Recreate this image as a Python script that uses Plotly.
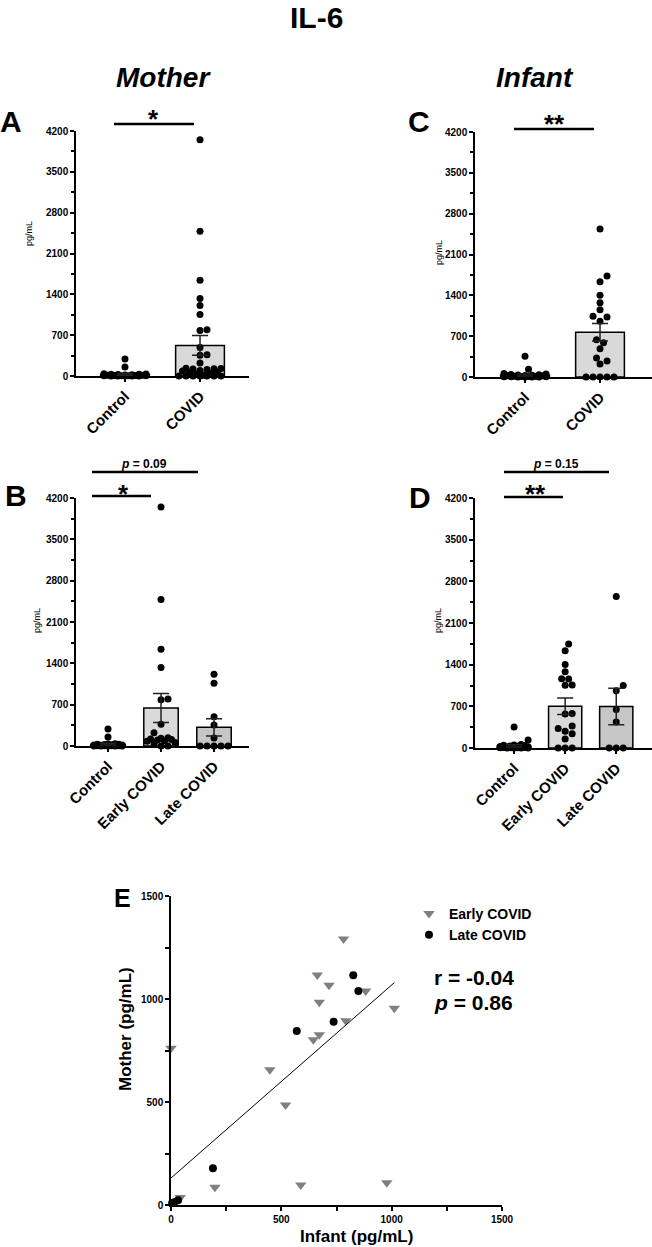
import numpy as np
import plotly.graph_objects as go

W, H = 652, 1247
FONT = "Liberation Sans, Arial, sans-serif"

# ---------------- data (pg/mL) ----------------
groups_2 = ["Control", "COVID"]
groups_3 = ["Control", "Early COVID", "Late COVID"]

mother_control = [290, 154, 40, 35, 30, 28, 25, 20, 18, 15, 12, 10, 8, 6, 5, 4, 3, 2, 1, 0, 0, 0]
mother_covid = [4050, 2480, 1640, 1330, 1210, 1055, 795, 780, 490, 365, 355, 222,
                135, 130, 125, 118, 110, 95, 85, 70, 60, 45, 30, 15, 0, 0, 0, 0, 0, 0, 0]
mother_early = [4047, 2482, 1640, 1328, 797, 785, 367, 226, 140, 130, 120, 110, 100, 90, 80, 60, 40, 0, 0]
mother_late = [1215, 1062, 497, 356, 136, 0, 0, 0, 0, 0]

infant_control = [354, 135, 60, 50, 45, 40, 35, 30, 25, 22, 20, 15, 12, 10, 8, 5, 5, 3, 2, 0, 0, 0]
infant_covid = [2537, 1731, 1634, 1400, 1274, 1154, 1040, 1030, 954, 640, 589, 486, 326, 274, 223, 0, 0, 0, 0, 0]
infant_early = [1746, 1634, 1404, 1280, 1165, 1160, 1058, 1054, 578, 573, 371, 326, 281, 241, 152, 0, 0, 0]
infant_late = [2544, 1050, 960, 646, 438, 0, 0, 0]

# bar heights (mean) and error bars (SEM)
mean_A = [30, 524]
sem_A = [15, 170]
mean_B = [30, 644, 316]
sem_B = [15, 245, 145]
mean_C = [35, 766]
sem_C = [18, 150]
mean_D = [35, 702, 697]
sem_D = [18, 140, 308]

# panel E: correlation, Infant (x) vs Mother (y)
early_infant = [0, 782, 663, 716, 672, 882, 1012, 792, 672, 645, 448, 519, 199, 588, 978, 42]
early_mother = [761, 1291, 1117, 1067, 984, 1039, 955, 894, 826, 802, 656, 485, 86, 97, 108, 36]
late_infant = [826, 849, 737, 570, 190, 32, 15, 5]
late_mother = [1115, 1039, 889, 845, 179, 23, 13, 10]
fit_intercept = 131
fit_slope = 0.937

y_ticks = [0, 700, 1400, 2100, 2800, 3500, 4200]
e_ticks = [0, 500, 1000, 1500]

# ---------------- helpers ----------------
def PX(p):
    return p / W


def PY(p):
    return 1 - p / H


def swarm(values, ppx, ppy, d=7.0, maxw=22.0):
    vals = np.asarray(values, dtype=float)
    order = np.argsort(vals, kind="stable")
    step = d / 2
    cands = [0.0]
    k = 1
    while k * step <= maxw:
        cands += [k * step, -k * step]
        k += 1
    placed = []
    offs = np.zeros(len(vals))
    for i in order:
        y = vals[i] * ppy
        chosen, best_c, best_s = None, 0.0, -1
        for c in cands:
            md = min((np.hypot(c - px, y - py) for px, py in placed), default=1e9)
            if md >= d * 0.98:
                chosen = c
                break
            if md > best_s:
                best_s, best_c = md, c
        if chosen is None:
            chosen = best_c
        placed.append((chosen, y))
        offs[i] = chosen / ppx
    return offs


fig = go.Figure()

axis_line = dict(showline=True, linecolor="black", linewidth=1.5, ticks="outside",
                 ticklen=4, tickwidth=1.5, tickcolor="black", showgrid=False,
                 zeroline=False, automargin=False)

panels = [
    dict(ax="", xd=(76, 249), yd=(131, 376), xr=(-0.653, 1.653), labels=groups_2,
         data=[mother_control, mother_covid], mean=mean_A, sem=sem_A,
         colors=["#d9d9d9", "#d9d9d9"], ytitle=(29, 234), maxw=22),
    dict(ax="2", xd=(76, 249), yd=(498, 746), xr=(-0.604, 2.66), labels=groups_3,
         data=[mother_control, mother_early, mother_late], mean=mean_B, sem=sem_B,
         colors=["#d9d9d9", "#dadada", "#c6c6c6"], ytitle=(37, 621), maxw=16),
    dict(ax="3", xd=(475, 652), yd=(132, 377), xr=(-0.667, 1.693), labels=groups_2,
         data=[infant_control, infant_covid], mean=mean_C, sem=sem_C,
         colors=["#d9d9d9", "#d9d9d9"], ytitle=(439, 253), maxw=22),
    dict(ax="4", xd=(475, 652), yd=(498, 748), xr=(-0.765, 2.70), labels=groups_3,
         data=[infant_control, infant_early, infant_late], mean=mean_D, sem=sem_D,
         colors=["#d9d9d9", "#dadada", "#c6c6c6"], ytitle=(438, 621), maxw=16),
]

annotations = []
shapes = []

for p in panels:
    xa, ya = "x" + p["ax"], "y" + p["ax"]
    ppx = (p["xd"][1] - p["xd"][0]) / (p["xr"][1] - p["xr"][0])
    ppy = (p["yd"][1] - p["yd"][0]) / 4200.0
    n = len(p["labels"])
    fig.add_trace(go.Bar(x=list(range(n)), y=p["mean"], width=0.65,
                         marker=dict(color=p["colors"], line=dict(color="black", width=1.5)),
                         xaxis=xa, yaxis=ya, showlegend=False, hoverinfo="skip"))
    for i, vals in enumerate(p["data"]):
        offs = swarm(vals, ppx, ppy, maxw=p["maxw"])
        fig.add_trace(go.Scatter(x=i + offs, y=vals, mode="markers",
                                 marker=dict(size=7, color="black"), cliponaxis=False,
                                 xaxis=xa, yaxis=ya, showlegend=False))
    fig.add_trace(go.Scatter(x=list(range(n)), y=p["mean"], mode="markers",
                             marker=dict(size=1, color="rgba(0,0,0,0)"),
                             error_y=dict(type="data", array=p["sem"], visible=True,
                                          color="#222222", thickness=1.5, width=8),
                             cliponaxis=False, xaxis=xa, yaxis=ya, showlegend=False))
    xkey = "xaxis" + p["ax"]
    ykey = "yaxis" + p["ax"]
    fig.update_layout(**{
        xkey: dict(axis_line, domain=[PX(p["xd"][0]), PX(p["xd"][1])], range=list(p["xr"]),
                   anchor=ya, tickmode="array", tickvals=list(range(n)),
                   ticktext=["<b>%s</b>" % t for t in p["labels"]], tickangle=-45,
                   tickfont=dict(size=15, color="black", family=FONT)),
        ykey: dict(axis_line, domain=[PY(p["yd"][1]), PY(p["yd"][0])], range=[0, 4200],
                   anchor=xa, tickmode="array", tickvals=y_ticks,
                   ticktext=["<b>%d</b>" % t for t in y_ticks],
                   tickfont=dict(size=10, color="black", family=FONT),
                   minor=dict(dtick=350, tick0=0, ticks="outside", ticklen=3,
                              tickwidth=1.5, tickcolor="black")),
    })
    annotations.append(dict(text="pg/mL", x=PX(p["ytitle"][0]), y=PY(p["ytitle"][1]),
                            xref="paper", yref="paper", showarrow=False, textangle=-90,
                            xanchor="center", yanchor="middle",
                            font=dict(size=9, color="black", family=FONT)))

# ---------------- panel E ----------------
fig.add_trace(go.Scatter(x=early_infant, y=early_mother, mode="markers", name="<b>Early COVID</b>",
                         marker=dict(symbol="triangle-down", size=10, color="#808080"),
                         cliponaxis=False, xaxis="x5", yaxis="y5"))
fig.add_trace(go.Scatter(x=late_infant, y=late_mother, mode="markers", name="<b>Late COVID</b>",
                         marker=dict(symbol="circle", size=8, color="black"),
                         cliponaxis=False, xaxis="x5", yaxis="y5"))
x_fit = np.array([0, max(early_infant + late_infant)], dtype=float)
fig.add_trace(go.Scatter(x=x_fit, y=fit_intercept + fit_slope * x_fit, mode="lines",
                         line=dict(color="black", width=1), xaxis="x5", yaxis="y5",
                         showlegend=False))

fig.update_layout(
    xaxis5=dict(axis_line, domain=[PX(171), PX(502)], range=[0, 1500], anchor="y5",
                tickmode="array", tickvals=e_ticks, ticktext=["<b>%d</b>" % t for t in e_ticks],
                tickfont=dict(size=10, color="black", family=FONT),
                minor=dict(dtick=250, ticks="outside", ticklen=4, tickwidth=1.5, tickcolor="black")),
    yaxis5=dict(axis_line, domain=[PY(1205), PY(896)], range=[0, 1500], anchor="x5",
                tickmode="array", tickvals=e_ticks, ticktext=["<b>%d</b>" % t for t in e_ticks],
                tickfont=dict(size=10, color="black", family=FONT),
                minor=dict(dtick=250, ticks="outside", ticklen=4, tickwidth=1.5, tickcolor="black")),
)

# ---------------- texts ----------------
def txt(s, x, y, size, xanchor="center", yanchor="middle", angle=0):
    annotations.append(dict(text=s, x=PX(x), y=PY(y), xref="paper", yref="paper",
                            showarrow=False, xanchor=xanchor, yanchor=yanchor, textangle=angle,
                            borderpad=0,
                            font=dict(size=size, color="black", family=FONT)))

txt("<b>IL-6</b>", 316, 0, 30, yanchor="top")
txt("<b><i>Mother</i></b>", 163, 77, 28)
txt("<b><i>Infant</i></b>", 535, 77, 28)
txt("<b>A</b>", 11, 122, 30)
txt("<b>B</b>", 16, 495, 30)
txt("<b>C</b>", 419, 122, 30)
txt("<b>D</b>", 420, 497, 30)
txt("<b>E</b>", 122, 898, 25)

# significance
txt("<b>*</b>", 153, 119, 26)
txt("<b>**</b>", 554, 124, 26)
txt("<b>*</b>", 123, 494, 26)
txt("<b>**</b>", 535, 494, 26)
txt("<b><i>p</i> = 0.09</b>", 144, 464, 12)
txt("<b><i>p</i> = 0.15</b>", 556, 464, 12)

for (x0, x1, y) in [(114, 194, 124), (514, 594, 129), (92, 151, 496), (92, 198, 472),
                    (504, 563, 497), (504, 609, 472)]:
    shapes.append(dict(type="line", xref="paper", yref="paper", x0=PX(x0), x1=PX(x1),
                       y0=PY(y), y1=PY(y), line=dict(color="black", width=2.5)))

# panel E texts
txt("<b>r = -0.04</b>", 433, 977, 21, xanchor="left")
txt("<b><i>p</i> = 0.86</b>", 433, 1003, 21, xanchor="left")
txt("<b>Infant (pg/mL)</b>", 356, 1236, 17)
txt("<b>Mother (pg/mL)</b>", 125, 1029, 17, angle=-90)

fig.update_layout(
    width=W, height=H, margin=dict(l=0, r=0, t=0, b=0, autoexpand=False),
    paper_bgcolor="white", plot_bgcolor="white",
    font=dict(family=FONT, color="black"),
    annotations=annotations, shapes=shapes,
    showlegend=True,
    legend=dict(x=PX(409), y=PY(898), xanchor="left", yanchor="top",
                font=dict(size=14, color="black", family=FONT),
                bgcolor="rgba(0,0,0,0)", tracegroupgap=0, itemwidth=30),
)

fig.write_html("out.html", config={"displayModeBar": False},
               post_script="document.body.style.margin='0px';")
